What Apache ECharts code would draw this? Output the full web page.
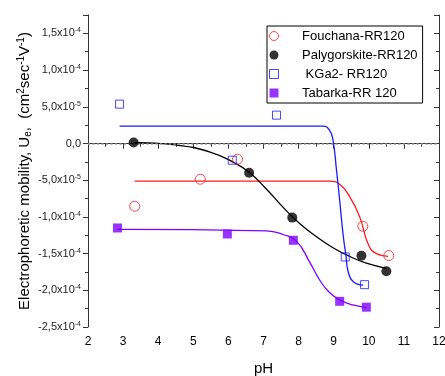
<!DOCTYPE html>
<html>
<head>
<meta charset="utf-8">
<script src="https://cdn.jsdelivr.net/npm/echarts@6/dist/echarts.min.js"></script>
<style>
  html, body { margin: 0; padding: 0; background: #fff; }
  #chart { width: 445px; height: 376px; }
</style>
</head>
<body>
<div id="chart"></div>
<script>
// measured points, y in units of 1e-4 cm2/(V s)
const fouchanaX = [3.33, 5.2, 6.26, 9.83, 10.57];
const fouchanaY = [-0.855, -0.487, -0.214, -1.128, -1.527];
const palyX = [3.3, 6.59, 7.82, 9.79, 10.5];
const palyY = [0.014, -0.40, -1.01, -1.53, -1.74];
const kgaX = [2.9, 6.11, 7.37, 9.33, 9.88];
const kgaY = [0.536, -0.228, 0.386, -1.546, -1.923];
const tabarkaX = [2.84, 5.97, 7.85, 9.17, 9.93];
const tabarkaY = [-1.151, -1.233, -1.319, -2.15, -2.23];

// fitted curves
const fitFouchanaX = [3.33, 8.88, 9.17, 9.46, 9.74, 10.0, 10.22, 10.55];
const fitFouchanaY = [-0.514, -0.514, -0.555, -0.728, -1.0, -1.39, -1.50, -1.537];
const fitPalyX = [3.3, 4.5, 5.5, 6.2, 6.61, 7.08, 7.56, 8.03, 8.51, 8.98, 9.46, 9.93, 10.5];
const fitPalyY = [0.014, -0.02, -0.12, -0.27, -0.40, -0.62, -0.87, -1.09, -1.27, -1.42, -1.54, -1.63, -1.70];
const fitKgaX = [2.9, 8.70, 8.88, 8.98, 9.08, 9.17, 9.27, 9.35, 9.41, 9.55, 9.84];
const fitKgaY = [0.236, 0.236, 0.181, 0.045, -0.363, -0.773, -1.25, -1.53, -1.74, -1.88, -1.93];
const fitTabarkaX = [2.84, 7.08, 7.56, 7.94, 8.32, 8.60, 8.88, 9.17, 9.55, 9.93];
const fitTabarkaY = [-1.17, -1.19, -1.24, -1.33, -1.62, -1.86, -2.03, -2.13, -2.20, -2.236];

const xTicks = [2, 3, 4, 5, 6, 7, 8, 9, 10, 11, 12];
const yMin = -2.5, yMax = 1.75;

const RED = '#ff1a1a', BLUE = '#1a1aff', PURPLE = '#8000ff', BLACK = '#000';
const FONT = 'Liberation Sans, Arial, sans-serif';
const SQUARE = 'path://M0,0L10,0L10,10L0,10Z';

function pairs(xs, ys) {
  return xs.map((x, i) => [x, ys[i]]);
}

function yLabel(v) {
  if (Math.abs(v) < 1e-9) return '{n|0,0}';
  if (Math.abs(Math.round(v * 2) - v * 2) > 1e-6) return '';
  if (Math.abs(Math.abs(v) - 0.5) < 1e-9) return '{n|' + (v < 0 ? '-' : '') + '5,0x10}{s|-5}';
  return '{n|' + v.toFixed(1).replace('.', ',') + 'x10}{s|-4}';
}

const chart = echarts.init(document.getElementById('chart'));

const axisLine = { lineStyle: { color: '#333', width: 1 } };

function fitLine(name, xs, ys, color) {
  return {
    name: name, type: 'line', data: pairs(xs, ys),
    smooth: 0.5, showSymbol: false, symbol: 'none',
    lineStyle: { color: color, width: 1.3 }, z: 2, silent: true
  };
}

const option = {
  animation: false,
  textStyle: { fontFamily: FONT },
  grid: { left: 88, right: 6, top: 15, bottom: 49, outerBoundsMode: 'none' },
  xAxis: [
    {
      type: 'value', min: 2, max: 12, interval: 1,
      name: 'pH', nameLocation: 'middle', nameGap: 34, nameMoveOverlap: false,
      nameTextStyle: { fontSize: 15, color: '#000', fontFamily: FONT },
      axisLine: axisLine,
      axisTick: { length: 5, lineStyle: { color: '#333' } },
      minorTick: { show: true, splitNumber: 2, length: 3, lineStyle: { color: '#333' } },
      axisLabel: {
        fontSize: 12, color: '#000', margin: 9, fontFamily: FONT,
        formatter: v => (xTicks.includes(v) ? String(v) : '')
      },
      splitLine: { show: false }
    },
    {
      type: 'value', min: 2, max: 12, interval: 1, position: 'top',
      axisLine: axisLine,
      axisTick: { inside: true, length: 5, lineStyle: { color: '#333' } },
      minorTick: { show: true, splitNumber: 2, length: 3, lineStyle: { color: '#333' } },
      axisLabel: { show: false },
      splitLine: { show: false }
    }
  ],
  yAxis: [
    {
      type: 'value', min: yMin, max: yMax, interval: 0.5,
      name: 'Electrophoretic mobility, U{sub|e},  (cm{sup|2}sec{sup|-1}V{sup|-1})',
      nameLocation: 'middle', nameGap: 54, nameRotate: 90, nameMoveOverlap: false,
      nameTextStyle: {
        fontSize: 15, color: '#000', fontFamily: FONT,
        rich: {
          sub: { fontSize: 10, padding: [7, 0, 0, 0], color: '#000', fontFamily: FONT },
          sup: { fontSize: 10, padding: [0, 0, 8, 0], color: '#000', fontFamily: FONT }
        }
      },
      axisLine: axisLine,
      axisTick: { length: 5, lineStyle: { color: '#333' } },
      minorTick: { show: true, splitNumber: 2, length: 3, lineStyle: { color: '#333' } },
      axisLabel: {
        margin: 7, formatter: yLabel,
        rich: {
          n: { fontSize: 11, color: '#222', fontFamily: FONT },
          s: { fontSize: 7, color: '#222', padding: [0, 0, 6, 0], fontFamily: FONT }
        }
      },
      splitLine: { show: false }
    },
    {
      type: 'value', min: yMin, max: yMax, interval: 0.5, position: 'right',
      axisLine: axisLine,
      axisTick: { inside: true, length: 5, lineStyle: { color: '#333' } },
      minorTick: { show: true, splitNumber: 2, length: 3, lineStyle: { color: '#333' } },
      axisLabel: { show: false },
      splitLine: { show: false }
    }
  ],
  legend: {
    left: 267, top: 26, orient: 'vertical',
    padding: [3, 5, 3, 2],
    itemWidth: 28, itemHeight: 9, itemGap: 5,
    borderColor: '#000', borderWidth: 1, borderRadius: 0,
    backgroundColor: '#fff',
    formatter: name => '{p|}' + name,
    textStyle: {
      fontSize: 13, color: '#000', lineHeight: 14, fontFamily: FONT,
      rich: { p: { width: 9 } }
    },
    data: [
      { name: 'Fouchana-RR120', icon: 'circle', itemStyle: { borderWidth: 1 } },
      { name: 'Palygorskite-RR120', icon: 'circle' },
      { name: ' KGa2- RR120', icon: SQUARE, itemStyle: { borderWidth: 1 } },
      { name: 'Tabarka-RR 120', icon: SQUARE }
    ]
  },
  series: [
    fitLine('fitFouchana', fitFouchanaX, fitFouchanaY, RED),
    Object.assign(fitLine('fitPaly', fitPalyX, fitPalyY, BLACK), {
      markLine: {
        silent: true, symbol: ['none', 'none'], label: { show: false },
        lineStyle: { color: '#999', type: [2, 2.5], width: 1.5 },
        data: [{ yAxis: 0 }]
      }
    }),
    fitLine('fitKga', fitKgaX, fitKgaY, BLUE),
    fitLine('fitTabarka', fitTabarkaX, fitTabarkaY, PURPLE),
    {
      name: 'Fouchana-RR120', type: 'scatter', data: pairs(fouchanaX, fouchanaY),
      symbol: 'circle', symbolSize: 10, z: 5,
      itemStyle: { color: 'rgba(255,255,255,0)', borderColor: RED, borderWidth: 1 }
    },
    {
      name: 'Palygorskite-RR120', type: 'scatter', data: pairs(palyX, palyY),
      symbol: 'circle', symbolSize: 10, z: 5,
      itemStyle: { color: BLACK }
    },
    {
      name: ' KGa2- RR120', type: 'scatter', data: pairs(kgaX, kgaY),
      symbol: 'rect', symbolSize: 8, z: 5,
      itemStyle: { color: 'rgba(255,255,255,0)', borderColor: BLUE, borderWidth: 1 }
    },
    {
      name: 'Tabarka-RR 120', type: 'scatter', data: pairs(tabarkaX, tabarkaY),
      symbol: 'rect', symbolSize: 9, z: 5,
      itemStyle: { color: PURPLE }
    }
  ]
};

chart.setOption(option);
</script>
</body>
</html>
